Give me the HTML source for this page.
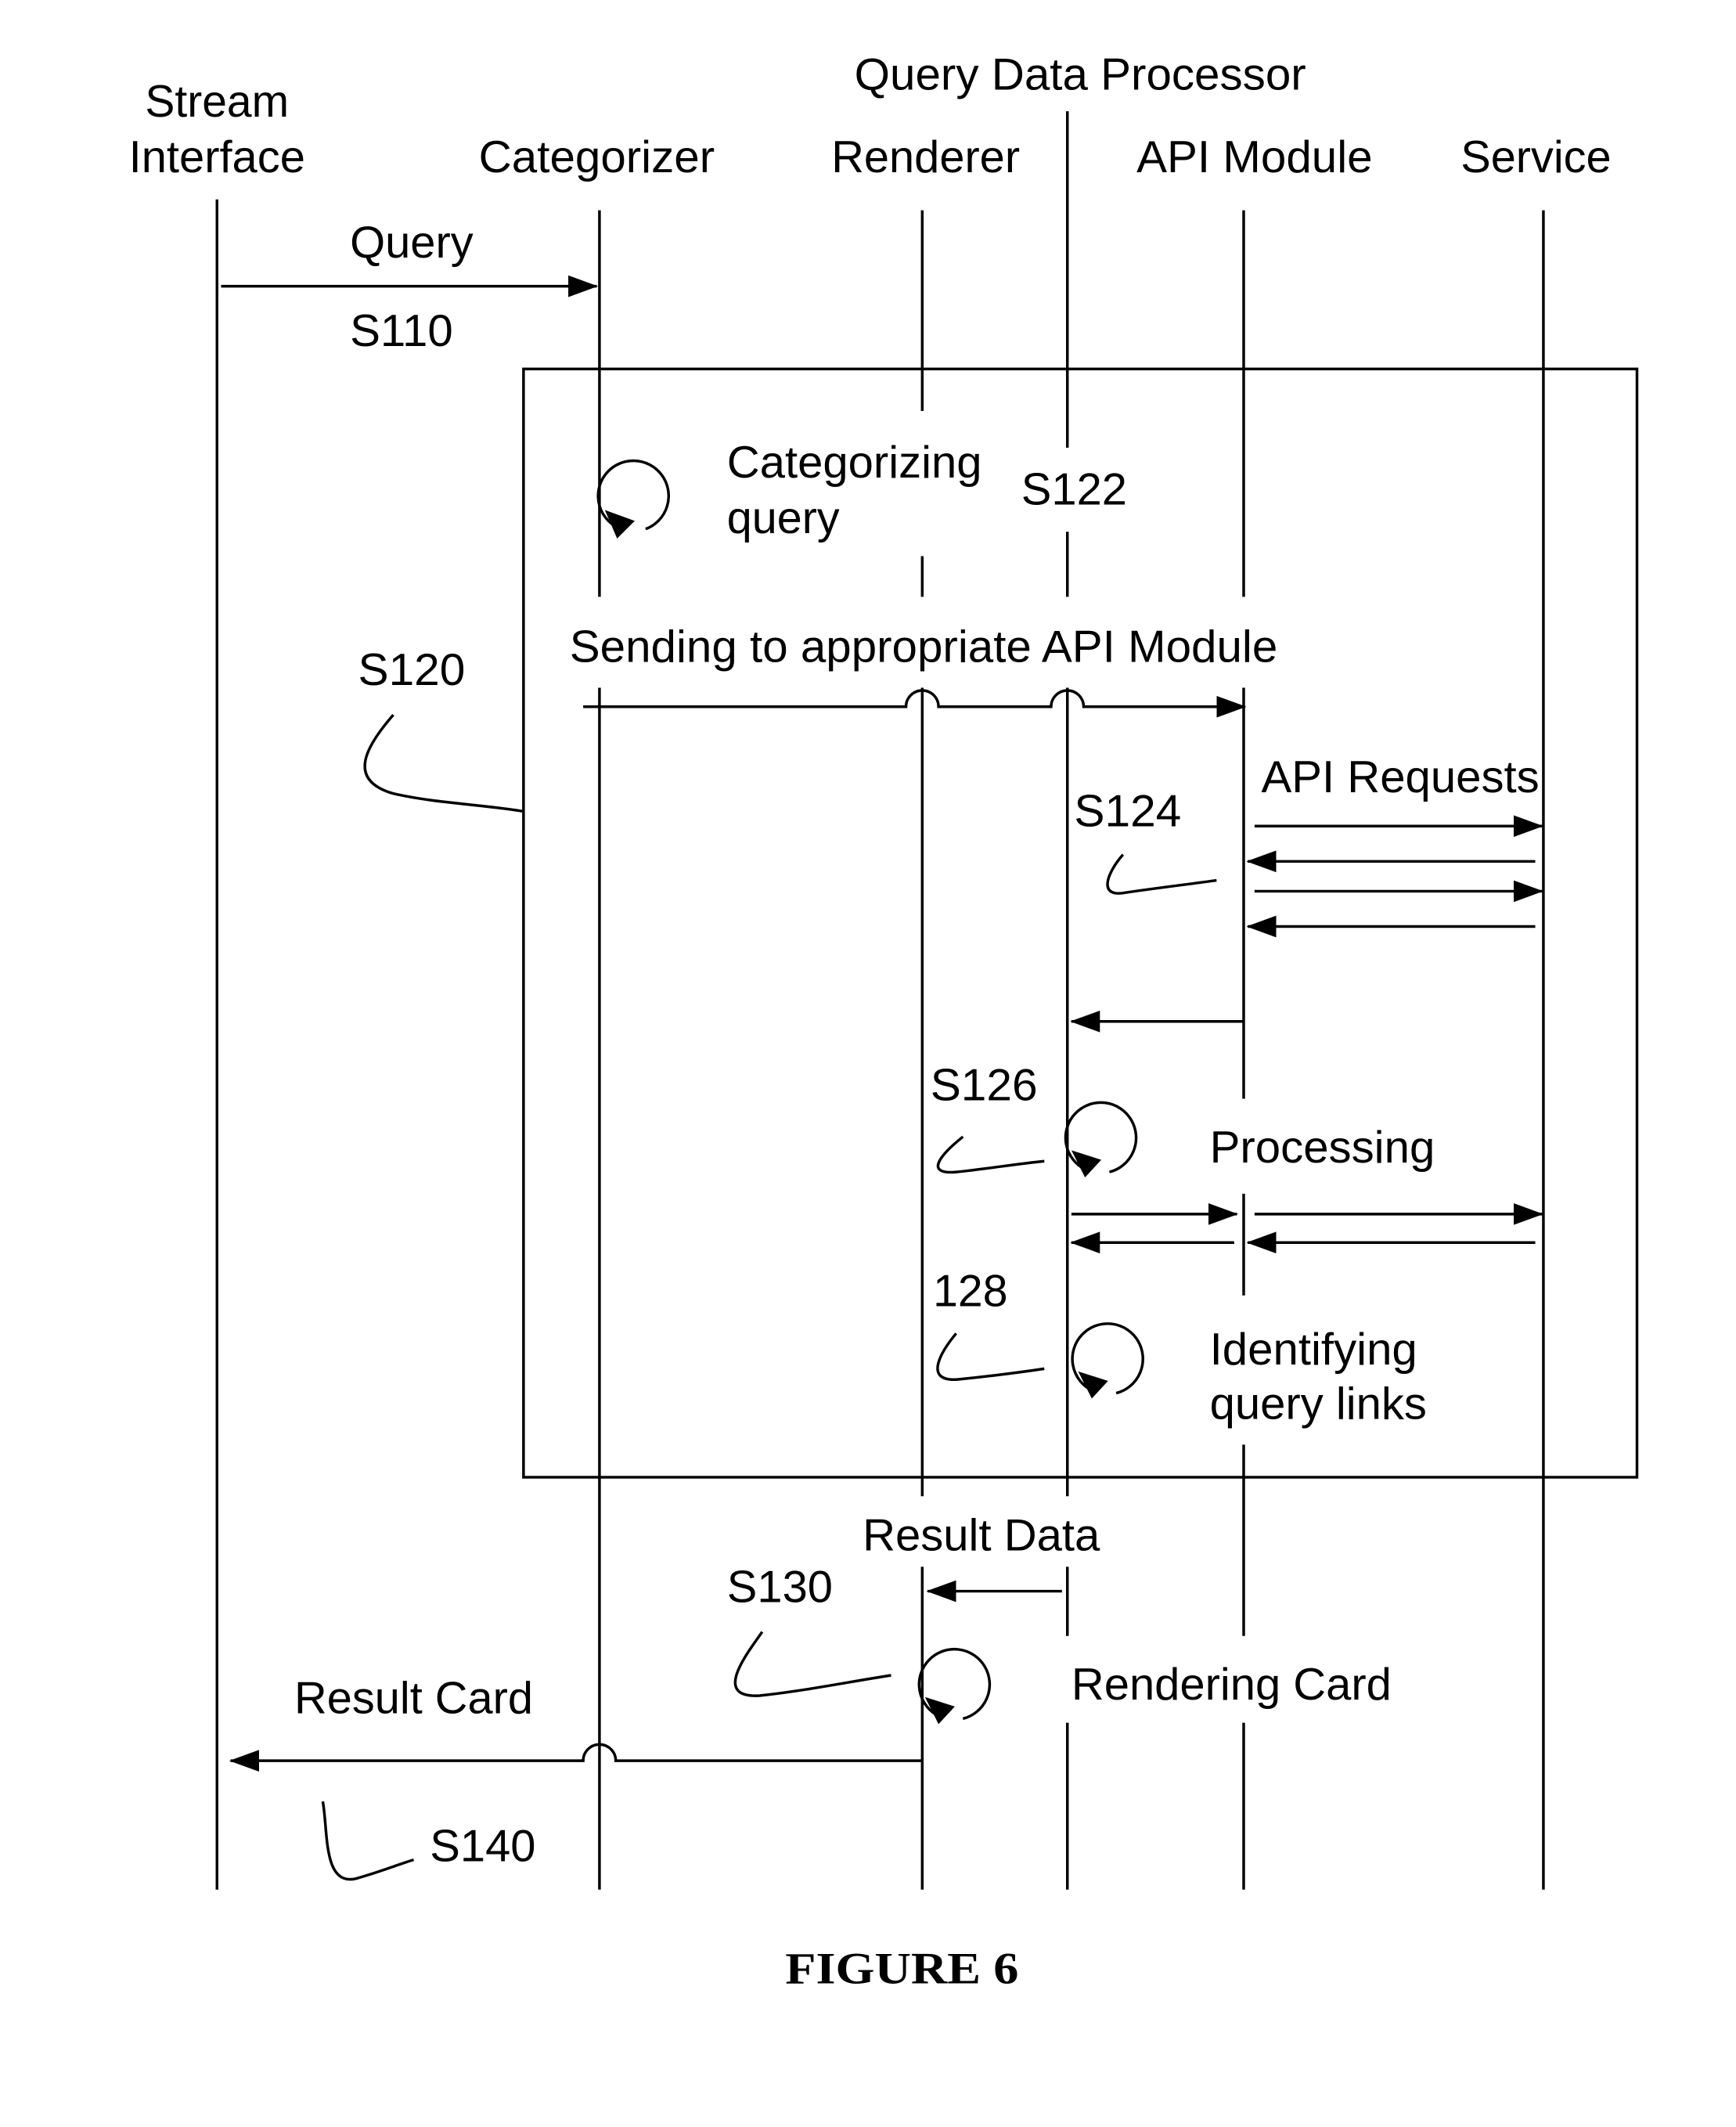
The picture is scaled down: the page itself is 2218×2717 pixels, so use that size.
<!DOCTYPE html>
<html><head><meta charset="utf-8"><style>
html,body{margin:0;padding:0;background:#fff}
svg{display:block}
text{font-family:"Liberation Sans",sans-serif;font-size:33px;fill:#000}
</style></head><body>
<svg width="2218" height="2717" viewBox="0 0 1280 1568" xmlns="http://www.w3.org/2000/svg">
<defs>
<marker id="b" markerWidth="22" markerHeight="16" refX="21" refY="8" orient="auto" markerUnits="userSpaceOnUse" viewBox="0 0 22 16">
<path d="M0,0 L22,8 L0,16 z" fill="#000"/></marker>
</defs>
<g stroke="#000" stroke-width="2" fill="none">
<line x1="160" y1="147" x2="160" y2="1393"/>
<line x1="442" y1="155" x2="442" y2="440"/>
<line x1="442" y1="507" x2="442" y2="1393"/>
<line x1="680" y1="155" x2="680" y2="303"/>
<line x1="680" y1="410" x2="680" y2="440"/>
<line x1="680" y1="507" x2="680" y2="1103"/>
<line x1="680" y1="1155" x2="680" y2="1393"/>
<line x1="787" y1="82" x2="787" y2="330"/>
<line x1="787" y1="392" x2="787" y2="440"/>
<line x1="787" y1="507" x2="787" y2="1103"/>
<line x1="787" y1="1155" x2="787" y2="1206"/>
<line x1="787" y1="1270" x2="787" y2="1393"/>
<line x1="917" y1="155" x2="917" y2="440"/>
<line x1="917" y1="507" x2="917" y2="810"/>
<line x1="917" y1="880" x2="917" y2="955"/>
<line x1="917" y1="1065" x2="917" y2="1206"/>
<line x1="917" y1="1270" x2="917" y2="1393"/>
<line x1="1138" y1="155" x2="1138" y2="1393"/>
<rect x="386" y="272" width="821" height="817"/>
<line x1="163" y1="211" x2="440" y2="211" marker-end="url(#b)"/>
<path d="M430,521 H668 A12,12 0 0 1 692,521 H775 A12,12 0 0 1 799,521 H918" marker-end="url(#b)"/>
<line x1="925" y1="609" x2="1137" y2="609" marker-end="url(#b)"/>
<line x1="1132" y1="635" x2="920" y2="635" marker-end="url(#b)"/>
<line x1="925" y1="657" x2="1137" y2="657" marker-end="url(#b)"/>
<line x1="1132" y1="683" x2="920" y2="683" marker-end="url(#b)"/>
<line x1="917" y1="753" x2="790" y2="753" marker-end="url(#b)"/>
<line x1="790" y1="895" x2="912" y2="895" marker-end="url(#b)"/>
<line x1="925" y1="895" x2="1137" y2="895" marker-end="url(#b)"/>
<line x1="910" y1="916" x2="790" y2="916" marker-end="url(#b)"/>
<line x1="1132" y1="916" x2="920" y2="916" marker-end="url(#b)"/>
<line x1="783" y1="1173" x2="684" y2="1173" marker-end="url(#b)"/>
<path d="M680,1298 H454 A12,12 0 0 0 430,1298 H170" marker-end="url(#b)"/>
<path d="M458,390 A26,26 0 1 1 476,390"/>
<path d="M800,862 A26,26 0 1 1 818,864"/>
<path d="M805,1025 A26,26 0 1 1 823,1027"/>
<path d="M692,1265 A26,26 0 1 1 710,1267"/>
<path d="M290,527 C270,550 255,575 290,585 C320,592 355,593 385,598"/>
<path d="M828,630 C815,645 810,662 830,658 C850,655 875,652 897,649"/>
<path d="M710,838 C695,850 680,866 705,864 C725,862 750,858 770,856"/>
<path d="M705,983 C695,995 680,1018 705,1017 C725,1015 750,1012 770,1009"/>
<path d="M562,1203 C550,1220 525,1252 560,1250 C590,1247 625,1240 657,1235"/>
<path d="M238,1328 C242,1350 238,1390 262,1385 C280,1380 292,1375 305,1371"/>
</g>
<g fill="#000">
<path d="M446,376 L468,384 L455,397 z"/>
<path d="M790,848 L812,855 L800,868 z"/>
<path d="M795,1011 L817,1018 L805,1031 z"/>
<path d="M682,1251 L704,1258 L692,1271 z"/>
</g>
<g>
<text x="107" y="86" textLength="106" lengthAdjust="spacingAndGlyphs">Stream</text>
<text x="95" y="127" textLength="130" lengthAdjust="spacingAndGlyphs">Interface</text>
<text x="353" y="127" textLength="174" lengthAdjust="spacingAndGlyphs">Categorizer</text>
<text x="613" y="127" textLength="139" lengthAdjust="spacingAndGlyphs">Renderer</text>
<text x="630" y="66" textLength="333" lengthAdjust="spacingAndGlyphs">Query Data Processor</text>
<text x="838" y="127" textLength="174" lengthAdjust="spacingAndGlyphs">API Module</text>
<text x="1077" y="127" textLength="111" lengthAdjust="spacingAndGlyphs">Service</text>
<text x="258" y="190" textLength="91" lengthAdjust="spacingAndGlyphs">Query</text>
<text x="258" y="255" textLength="76" lengthAdjust="spacingAndGlyphs">S110</text>
<text x="536" y="352" textLength="188" lengthAdjust="spacingAndGlyphs">Categorizing</text>
<text x="536" y="393" textLength="83" lengthAdjust="spacingAndGlyphs">query</text>
<text x="753" y="372" textLength="78" lengthAdjust="spacingAndGlyphs">S122</text>
<text x="264" y="505" textLength="79" lengthAdjust="spacingAndGlyphs">S120</text>
<text x="420" y="488" textLength="522" lengthAdjust="spacingAndGlyphs">Sending to appropriate API Module</text>
<text x="930" y="584" textLength="205" lengthAdjust="spacingAndGlyphs">API Requests</text>
<text x="792" y="609" textLength="79" lengthAdjust="spacingAndGlyphs">S124</text>
<text x="686" y="811" textLength="79" lengthAdjust="spacingAndGlyphs">S126</text>
<text x="892" y="857" textLength="166" lengthAdjust="spacingAndGlyphs">Processing</text>
<text x="688" y="963" textLength="55" lengthAdjust="spacingAndGlyphs">128</text>
<text x="892" y="1006" textLength="153" lengthAdjust="spacingAndGlyphs">Identifying</text>
<text x="892" y="1046" textLength="160" lengthAdjust="spacingAndGlyphs">query links</text>
<text x="636" y="1143" textLength="175" lengthAdjust="spacingAndGlyphs">Result Data</text>
<text x="536" y="1181" textLength="78" lengthAdjust="spacingAndGlyphs">S130</text>
<text x="790" y="1253" textLength="236" lengthAdjust="spacingAndGlyphs">Rendering Card</text>
<text x="217" y="1263" textLength="176" lengthAdjust="spacingAndGlyphs">Result Card</text>
<text x="317" y="1372" textLength="78" lengthAdjust="spacingAndGlyphs">S140</text>
<text x="579" y="1462" textLength="172" lengthAdjust="spacingAndGlyphs" style="font-family:'Liberation Serif',serif;font-weight:bold;font-size:33px">FIGURE 6</text>
</g>
</svg>
</body></html>
